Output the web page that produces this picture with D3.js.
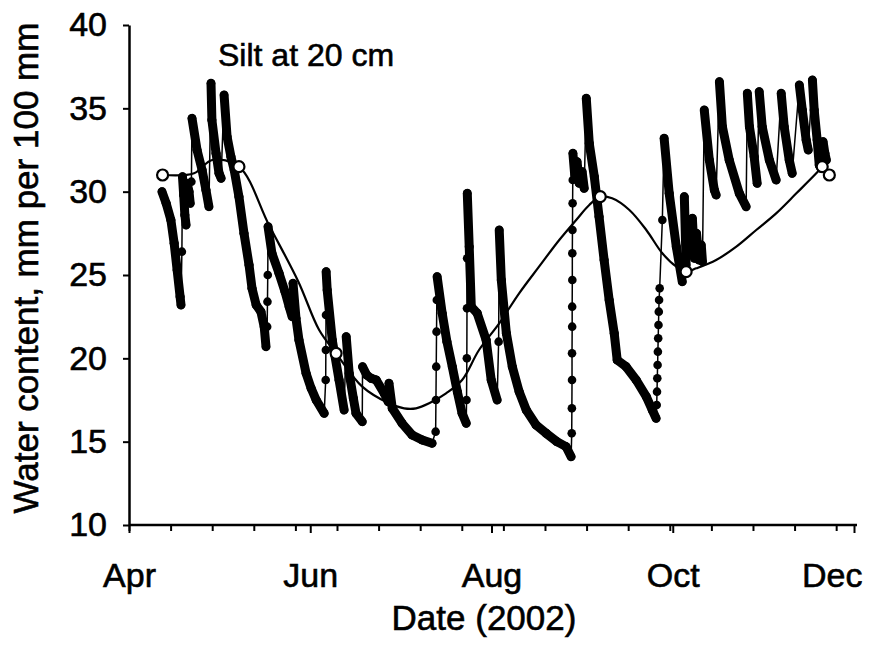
<!DOCTYPE html>
<html>
<head>
<meta charset="utf-8">
<script src="https://cdn.jsdelivr.net/npm/d3@7"></script>
<style>
body { margin: 0; background: #fff; }
text { font-family: "Liberation Sans", Arial, sans-serif; fill: #000; stroke: #000; stroke-width: 0.6px; }
</style>
</head>
<body>
<svg id="chart" width="878" height="653"></svg>
<script>
// days after 1 Apr 2002 / water content (mm per 100 mm)
var measDay = [11.1,12.5,14.1,15.2,16.2,17.2,17.5,17.8,18.0,18.4,18.8,19.2,19.6,20.2,20.6,21.0,21.2,22.9,24.6,25.9,26.9,
  27.6,27.9,29.3,30.3,31.0,32.0,33.0,34.3,35.4,37.0,38.7,40.4,41.4,42.8,44.4,45.5,46.1,46.5,46.6,46.7,46.8,
  48.1,50.5,52.5,53.9,54.9,55.2,56.2,57.2,59.6,61.3,63.0,65.7,66.2,66.25,66.3,66.35,66.7,68.4,70.7,72.4,
  73.1,74.1,75.5,76.4,78.5,78.6,80.0,81.5,83.2,85.9,87.2,87.5,88.6,91.9,95.3,98.7,102.0,
  103.2,103.3,103.4,103.5,103.6,103.7,105.4,107.0,108.8,110.5,112.1,113.5,113.6,113.7,113.75,113.8,113.85,
  114.5,115.2,117.2,120.2,121.9,123.9,124.4,124.6,125.3,127.0,129.0,131.3,133.7,137.0,140.4,144.0,147.1,148.8,
  149.0,149.05,149.1,149.1,149.15,149.15,149.2,149.2,149.25,149.3,149.35,149.4,
  150.0,150.8,151.5,152.5,153.2,153.9,154.9,156.6,158.2,159.9,161.6,163.3,164.3,167.3,170.7,174.1,176.1,177.4,
  177.6,177.7,177.8,177.9,178.0,178.1,178.2,178.3,178.4,178.6,179.5,180.1,
  181.8,184.2,186.2,186.9,187.5,188.6,189.6,190.3,191.0,191.8,192.6,193.0,
  193.6,195.3,197.0,197.6,198.7,199.7,202.0,205.4,207.7,208.1,208.8,210.4,211.4,
  212.1,213.1,215.5,217.8,219.5,220.5,222.2,223.2,225.6,226.6,227.9,228.6,
  230.0,230.6,231.6,232.3,233.0,233.6,234.2,234.7];
var measVal = [30.0,29.3,28.3,26.9,25.3,23.7,23.2,26.4,30.9,29.8,28.6,28.0,30.5,30.0,29.3,30.6,34.4,32.5,31.3,30.1,29.1,
  36.5,34.3,32.3,31.1,30.8,35.8,33.3,32.1,31.3,29.7,27.5,25.6,24.2,23.2,22.8,21.9,20.7,21.9,23.4,25.0,27.9,
  26.3,25.1,24.0,23.1,22.5,24.5,22.4,21.1,19.1,18.2,17.5,16.7,18.7,20.5,22.6,25.2,24.1,21.1,18.7,16.9,
  21.3,19.1,17.6,16.7,16.2,19.5,19.0,18.8,18.7,17.9,17.4,18.5,17.0,16.1,15.4,15.1,14.9,
  15.6,17.5,19.5,21.6,23.5,24.9,22.7,21.0,19.5,18.0,16.7,16.1,17.5,20.0,23.0,26.0,29.9,
  26.7,23.1,22.7,21.1,18.7,17.5,21.0,27.7,24.7,21.5,19.5,18.0,16.9,16.0,15.5,15.0,14.7,14.1,
  15.5,17.0,18.7,20.3,21.9,23.1,24.7,26.3,27.7,29.3,30.7,32.3,
  31.0,31.8,30.5,31.2,30.2,35.6,32.9,30.9,28.5,25.9,23.5,21.5,19.9,19.5,18.7,17.7,16.9,16.4,
  17.2,18.0,18.8,19.6,20.4,21.2,22.0,22.8,23.5,24.2,28.3,33.2,
  29.9,26.7,24.6,29.7,25.6,26.5,28.4,26.0,27.5,25.9,26.8,25.8,
  34.9,31.9,30.1,29.8,36.6,33.9,31.9,29.9,29.1,35.9,33.9,32.1,30.5,
  36.0,33.9,31.9,30.7,35.9,33.9,31.9,31.1,36.4,34.9,33.1,32.5,
  36.7,34.9,33.1,31.6,31.4,33.0,32.3,31.9];

// smooth fitted line
var modelDay = [11.3,21.9,28.0,37.0,47.1,57.0,64.0,69.7,78.5,87.5,92.6,96.6,101.0,106.7,112.1,117.8,124.6,131.3,
  138.0,144.8,150.5,154.9,158.6,162.6,168.4,174.1,179.5,184.2,187.5,190.9,197.6,204.4,211.1,217.8,224.6,231.3,233.3];
var modelVal = [31.0,31.1,31.9,31.5,28.0,24.6,21.7,20.3,18.3,17.3,17.0,17.0,17.3,17.9,18.7,20.5,22.1,23.9,
  25.5,27.1,28.3,29.2,29.7,29.6,28.9,27.7,26.3,25.5,25.2,25.4,25.9,26.7,27.7,28.7,29.9,31.1,31.5];

// open circles
var probeDay = [11.3,37.0,69.7,158.6,187.5,233.3,235.7];
var probeVal = [31.0,31.5,20.3,29.7,25.2,31.5,31.0];

var yTicks = [10,15,20,25,30,35,40];
var monthLabels = ["Apr","Jun","Aug","Oct","Dec"];

var t0 = Date.UTC(2002,3,1);
var toDate = function(d) { return new Date(t0 + d*864e5); }

var svg = d3.select("#chart");

var x = d3.scaleUtc()
  .domain([toDate(0), new Date(Date.UTC(2002,11,1))])
  .range([129, 854]);
var y = d3.scaleLinear().domain([10,40]).range([525,25]);

// axes
var monthDates = monthLabels.map(function(m,i) { return new Date(Date.UTC(2002,3+2*i,1)); });
var minorDates = d3.range(0, 245, 14).map(toDate);

svg.append("g")
  .attr("transform","translate(0,525)")
  .call(d3.axisBottom(x).tickValues(minorDates).tickSize(6).tickSizeOuter(0).tickFormat(""))
  .call(function(g) { g.select(".domain").remove(); })
  .selectAll("line").attr("stroke-width",2);

var xAxis = svg.append("g")
  .attr("transform","translate(0,525)")
  .call(d3.axisBottom(x).tickValues(monthDates).tickSize(8).tickSizeOuter(0).tickPadding(30)
    .tickFormat(function(d,i) { return monthLabels[i]; }));
xAxis.select(".domain").attr("stroke-width",2.5).attr("d","M129,0H857");
xAxis.selectAll("line").attr("stroke-width",2);
xAxis.selectAll("text").style("font-size","34px").attr("fill","#000");
xAxis.selectAll("text").filter(function(d,i) { return i == monthLabels.length-1; })
  .attr("text-anchor","end").attr("x",8);

var yAxis = svg.append("g")
  .attr("transform","translate(129,0)")
  .call(d3.axisLeft(y).tickValues(yTicks).tickSize(6).tickSizeOuter(0).tickPadding(16));
yAxis.select(".domain").attr("stroke-width",2.5);
yAxis.selectAll("line").attr("stroke-width",2);
yAxis.selectAll("text").style("font-size","34px").attr("fill","#000");

// titles
svg.append("text").attr("x",484).attr("y",630).attr("text-anchor","middle")
  .style("font-size","35px").text("Date (2002)");
svg.append("text").attr("transform","translate(38,268) rotate(-90)").attr("text-anchor","middle")
  .style("font-size","35px").text("Water content, mm per 100 mm");
svg.append("text").attr("x",218).attr("y",66).style("font-size","32px").text("Silt at 20 cm");

// fitted curve
var model = modelDay.map(function(d,i) { return [d, modelVal[i]]; });
svg.append("path")
  .datum(model)
  .attr("fill","none").attr("stroke","#000").attr("stroke-width",2.2)
  .attr("d", d3.line()
    .x(function(p) { return x(toDate(p[0])); })
    .y(function(p) { return y(p[1]); })
    .curve(d3.curveCatmullRom.alpha(0.5)));

// measured series
var meas = measDay.map(function(d,i) { return [d, measVal[i]]; });
var line = d3.line()
  .x(function(p) { return x(toDate(p[0])); })
  .y(function(p) { return y(p[1]); });

svg.append("path").datum(meas)
  .attr("fill","none").attr("stroke","#000").attr("stroke-width",1.5)
  .attr("d", line);

// drying spells are logged densely, so they show as a heavy band
var drying = [];
for (var i = 0; i < meas.length-1; i++) {
  if (meas[i+1][1] <= meas[i][1] + 0.3) drying.push([meas[i], meas[i+1]]);
}
svg.append("g").selectAll("path")
  .data(drying)
  .enter()
  .append("path")
  .attr("fill","none").attr("stroke","#000").attr("stroke-width",9).attr("stroke-linecap","round")
  .attr("d", line);

svg.append("g").selectAll("circle")
  .data(meas)
  .enter()
  .append("circle")
  .attr("cx", function(p) { return x(toDate(p[0])); })
  .attr("cy", function(p) { return y(p[1]); })
  .attr("r", 4.3)
  .attr("fill","#000");

// open circles
svg.append("g").selectAll("circle")
  .data(probeDay)
  .enter()
  .append("circle")
  .attr("cx", function(d) { return x(toDate(d)); })
  .attr("cy", function(d,i) { return y(probeVal[i]); })
  .attr("r", 5.5)
  .attr("fill","#fff").attr("stroke","#000").attr("stroke-width",2.2);
</script>
</body>
</html>
